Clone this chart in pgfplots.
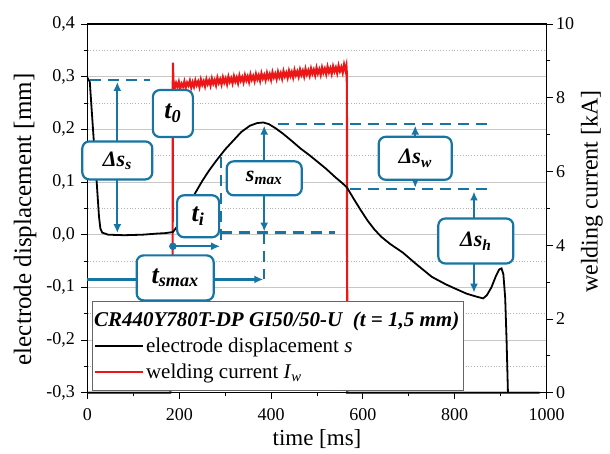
\documentclass[border=0pt]{standalone}
\usepackage{fontspec}
\setmainfont{Liberation Serif}
\usepackage{pgfplots}
\pgfplotsset{compat=1.18}
\usetikzlibrary{arrows.meta}
\definecolor{ann}{RGB}{22,117,163}
\definecolor{cur}{RGB}{236,22,22}
\newcommand{\lab}[2]{{\bfseries\itshape #1\textsubscript{#2}}}
\tikzset{
  abox/.style={draw=ann, line width=2.2pt, rounded corners=7pt, fill=white, inner sep=0pt, text=black},
  aln/.style={ann, line width=2.2pt},
  dsh/.style={ann, line width=2.2pt, dash pattern=on 11pt off 7pt},
  ahead/.style={-{Latex[length=9pt,width=8pt]}},
  bhead/.style={{Latex[length=9pt,width=8pt]}-{Latex[length=9pt,width=8pt]}},
}
\begin{document}
\begin{tikzpicture}
\useasboundingbox (-87.5pt,-60.3pt) rectangle (522.5pt,392.7pt);
\pgfplotsset{
  base/.style={scale only axis, width=459pt, height=368.7pt, xmin=0, xmax=1000,
    tick align=outside, major tick length=6pt, minor tick length=3.5pt,
    every tick/.style={black, line width=0.9pt}, axis line style={line width=1.1pt},
    tick label style={font=\fontsize{18}{18}\selectfont},
    /pgf/number format/assume math mode=true,
    /pgf/number format/1000 sep={}},
}
% ---------- right axis: welding current ----------
\begin{axis}[base, hide x axis, axis y line*=right, ymin=0, ymax=10,
  ytick={0,2,4,6,8,10}, minor ytick={1,3,5,7,9}, clip=false,
  ylabel={welding current [kA]},
  every axis y label/.style={at={(axis description cs:1.099,0.546)}, rotate=90, anchor=center,
    font=\fontsize{24}{24}\selectfont}]
\pgfplotsinvokeforeach{1.42857,2.85714,4.28571,5.71429,7.14286,8.57143}{
  \draw[black!22, line width=0.9pt] (axis cs:0,#1) -- (axis cs:1000,#1);}
\pgfplotsinvokeforeach{0.71429,2.14286,3.57143,5,6.42857,7.85714,9.28571}{
  \draw[black!30, line width=0.8pt, dotted] (axis cs:0,#1) -- (axis cs:1000,#1);}
\addplot[cur, line width=2.2pt] coordinates {
(0,0) (180,0) (183,0.15) (185,0.15) (186,8.95) (187,8.5) (189,8.3) (190,8.26)
(193,8.40) (196,8.29) (199,8.43) (202,8.24) (205,8.38) (208,8.30) (211,8.44) (214,8.27)
(217,8.41) (220,8.33) (223,8.46) (226,8.28) (229,8.42) (232,8.30) (235,8.47) (238,8.34)
(241,8.44) (244,8.29) (247,8.49) (250,8.35) (253,8.45) (256,8.31) (259,8.50) (262,8.37)
(265,8.47) (268,8.33) (271,8.52) (274,8.38) (277,8.48) (280,8.34) (283,8.54) (286,8.40)
(289,8.50) (292,8.36) (295,8.55) (298,8.41) (301,8.52) (304,8.37) (307,8.57) (310,8.43)
(313,8.53) (316,8.39) (319,8.58) (322,8.44) (325,8.55) (328,8.40) (331,8.60) (334,8.46)
(337,8.56) (340,8.42) (343,8.61) (346,8.47) (349,8.58) (352,8.43) (355,8.63) (358,8.49)
(361,8.59) (364,8.45) (367,8.64) (370,8.50) (373,8.61) (376,8.46) (379,8.66) (382,8.52)
(385,8.62) (388,8.48) (391,8.67) (394,8.53) (397,8.64) (400,8.49) (403,8.69) (406,8.55)
(409,8.65) (412,8.51) (415,8.70) (418,8.56) (421,8.67) (424,8.52) (427,8.72) (430,8.58)
(433,8.68) (436,8.54) (439,8.73) (442,8.59) (445,8.70) (448,8.55) (451,8.75) (454,8.61)
(457,8.71) (460,8.57) (463,8.76) (466,8.62) (469,8.73) (472,8.58) (475,8.78) (478,8.63)
(481,8.74) (484,8.60) (487,8.79) (490,8.65) (493,8.76) (496,8.61) (499,8.81) (502,8.66)
(505,8.77) (508,8.62) (511,8.82) (514,8.68) (517,8.79) (520,8.64) (523,8.84) (526,8.69)
(529,8.80) (532,8.65) (535,8.85) (538,8.71) (541,8.82) (544,8.67) (547,8.87) (550,8.72)
(553,8.83) (556,8.68) (559,8.90) (562,8.74) (564,8.86) (565,8.65) (566,0) (985,0)
};
\end{axis}
% ---------- left axis: electrode displacement ----------
\begin{axis}[base, ymin=-0.3, ymax=0.4, xtick pos=bottom, ytick pos=left,
  xtick={0,200,400,600,800,1000}, minor xtick={100,300,500,700,900},
  ytick={-0.3,-0.2,-0.1,0,0.1,0.2,0.3,0.4},
  minor ytick={-0.25,-0.15,-0.05,0.05,0.15,0.25,0.35},
  yticklabel style={xshift=-3pt, /pgf/number format/.cd, fixed, fixed zerofill, precision=1, use comma},
  xticklabel style={yshift=-6pt},
  xlabel={time [ms]},
  every axis x label/.style={at={(axis description cs:0.5,-0.1),}, anchor=north, inner sep=0pt,
    font=\fontsize{23}{23}\selectfont},
  ylabel={electrode displacement [mm]},
  every axis y label/.style={at={(axis description cs:-0.136,0.47)}, rotate=90, anchor=center,
    font=\fontsize{25}{25}\selectfont},
  legend image code/.code={\draw[#1, line width=2.2pt] (0pt,0pt) -- (48pt,0pt);},
  legend cell align=left,
  legend style={at={(axis cs:9,-0.295)}, anchor=south west, draw=black!60,
    fill=white, font=\fontsize{21}{22}\selectfont, inner xsep=2pt, inner ysep=8pt, row sep=6pt},
  clip=false]
\addlegendimage{empty legend}
\addlegendentry{\hspace*{-52pt}\textbf{\textit{CR440Y780T-DP GI50/50-U\ \ (t = 1,5 mm)}}}
\addplot[black, line width=1.8pt] coordinates {
(0,0.298) (5,0.29) (12,0.20) (20,0.10) (25,0.035) (28,0.012) (32,0.004) (45,0.0)
(80,-0.001) (120,0.0) (150,0.002) (170,0.003) (186,0.005) (195,0.015) (209,0.037)
(220,0.055) (234,0.078) (250,0.102) (265,0.122) (281,0.141) (300,0.162) (318,0.179)
(335,0.195) (354,0.207) (370,0.212) (383,0.213) (395,0.21) (410,0.202) (427,0.191)
(445,0.178) (465,0.163) (482,0.152) (499,0.140) (520,0.125) (540,0.109) (555,0.098)
(565,0.09) (580,0.068) (595,0.047) (610,0.027) (625,0.01) (640,-0.004) (660,-0.018)
(687,-0.034) (715,-0.055) (750,-0.08) (780,-0.094) (800,-0.102) (826,-0.112)
(845,-0.117) (862,-0.121) (870,-0.115) (880,-0.1) (890,-0.078) (897,-0.066)
(902,-0.064) (906,-0.075) (910,-0.12) (913,-0.2) (916,-0.3)
};
\addlegendentry{electrode displacement \textit{s}}
\addlegendimage{cur}
\addlegendentry{welding current \textit{I}\textsubscript{\textit{w}}}
% ----- annotations -----
% Delta s_s
\draw[dsh] (axis cs:5,0.293) -- (axis cs:136,0.293);
\draw[aln, bhead] (axis cs:65,0.003) -- (axis cs:65,0.290);
\node[abox, minimum width=70pt, minimum height=38pt, font=\fontsize{22}{22}\selectfont] at (axis cs:65,0.141) {\lab{Δs}{s}};
% t_0
\node[abox, minimum width=40pt, minimum height=47pt, font=\fontsize{26}{26}\selectfont] at (axis cs:186,0.23) {\lab{t}{0}};
% t_i
\draw[dsh] (axis cs:291,0.148) -- (axis cs:291,-0.022);
\draw[dsh] (axis cs:291,0.004) -- (axis cs:540,0.004);
\draw[aln, ahead] (axis cs:186,-0.022) -- (axis cs:289,-0.022);
\addplot[only marks, mark=*, mark size=3.5pt, ann, forget plot] coordinates {(186,-0.022)};
\node[abox, minimum width=42pt, minimum height=42pt, font=\fontsize{26}{26}\selectfont] at (axis cs:241,0.035) {\lab{t}{i}};
% s_max
\draw[dsh] (axis cs:415,0.21) -- (axis cs:870,0.21);
\draw[aln, bhead] (axis cs:385,0.006) -- (axis cs:385,0.207);
\node[abox, minimum width=75pt, minimum height=34pt, font=\fontsize{22}{22}\selectfont] at (axis cs:385,0.107) {\lab{s}{max}};
% t_smax
\draw[dsh] (axis cs:385,0.004) -- (axis cs:385,-0.085);
\draw[aln, ahead] (axis cs:0,-0.085) -- (axis cs:383,-0.085);
\node[abox, minimum width=77pt, minimum height=45pt, font=\fontsize{26}{26}\selectfont] at (axis cs:191,-0.082) {\lab{t}{smax}};
% Delta s_w
\draw[dsh] (axis cs:572,0.086) -- (axis cs:870,0.086);
\draw[aln, bhead] (axis cs:714,0.089) -- (axis cs:714,0.207);
\node[abox, minimum width=73pt, minimum height=43pt, font=\fontsize{22}{22}\selectfont] at (axis cs:714,0.145) {\lab{Δs}{w}};
% Delta s_h
\draw[aln, bhead] (axis cs:842,-0.110) -- (axis cs:842,0.082);
\node[abox, minimum width=75pt, minimum height=45pt, font=\fontsize{22}{22}\selectfont] at (axis cs:846,-0.012) {\lab{Δs}{h}};
\end{axis}
\end{tikzpicture}
\end{document}
